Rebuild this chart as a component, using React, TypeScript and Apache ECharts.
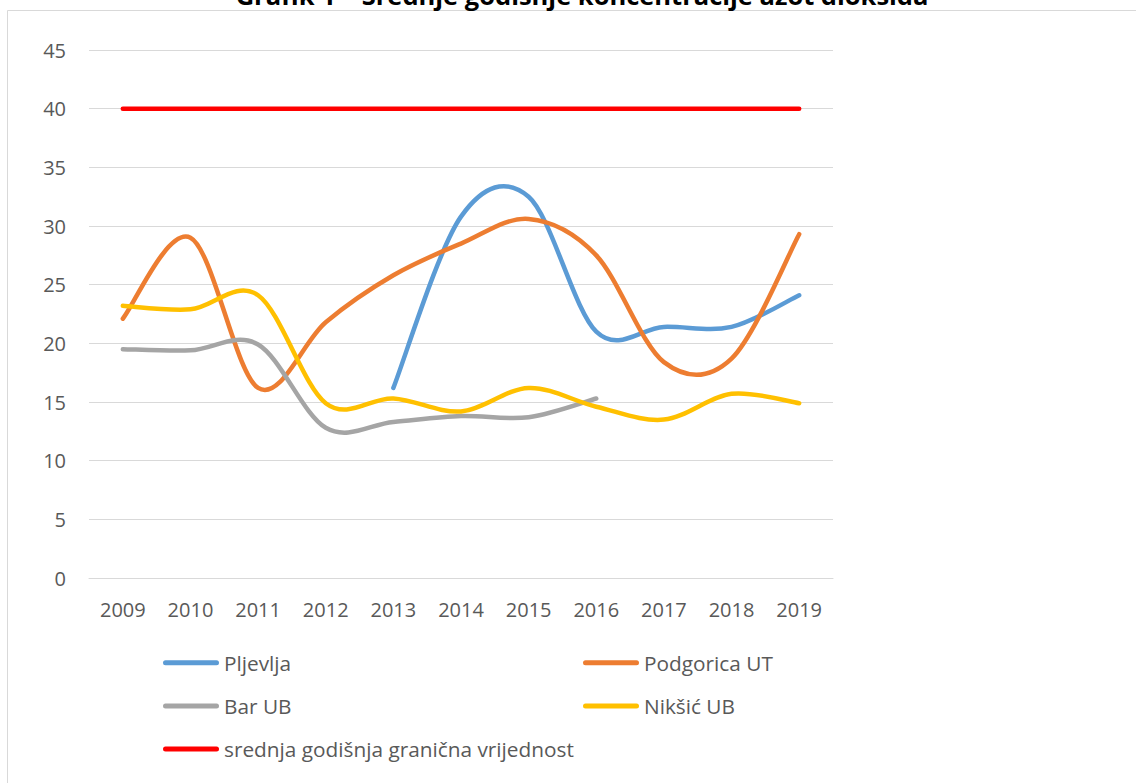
import React, { useEffect, useRef } from "react";
import * as echarts from "echarts";

const years = ["2009", "2010", "2011", "2012", "2013", "2014", "2015", "2016", "2017", "2018", "2019"];
const pljevlja = [null, null, null, null, 16.2, 30.8, 32.5, 21.0, 21.4, 21.4, 24.1];
const podgorica = [22.1, 29.0, 16.2, 21.8, 25.8, 28.5, 30.6, 27.5, 18.4, 18.7, 29.3];
const barUB = [19.5, 19.4, 19.9, 12.8, 13.3, 13.8, 13.7, 15.3, null, null, null];
const niksic = [23.2, 22.9, 24.1, 14.9, 15.3, 14.2, 16.2, 14.6, 13.5, 15.7, 14.9];
const limit = [40, 40, 40, 40, 40, 40, 40, 40, 40, 40, 40];

const titleText = "Grafik 1 – Srednje godišnje koncentracije azot dioksida";
const FONT = "'Open Sans', 'Noto Sans', sans-serif";
const ICON = "path://M2.5,0 L53.5,0 A2.5,2.5 0 0 1 53.5,5 L2.5,5 A2.5,2.5 0 0 1 2.5,0 Z";

// Excel-style smoothing (Catmull-Rom, 1/6 tangents) built from pixel points given by the axis scales
function smoothPath(pts: number[][]): string {
  if (pts.length === 0) return "";
  let d = `M${pts[0][0]},${pts[0][1]}`;
  for (let i = 0; i < pts.length - 1; i++) {
    const p0 = pts[i - 1] || pts[i];
    const p1 = pts[i];
    const p2 = pts[i + 1];
    const p3 = pts[i + 2] || pts[i + 1];
    const c1x = p1[0] + (p2[0] - p0[0]) / 6;
    const c1y = p1[1] + (p2[1] - p0[1]) / 6;
    const c2x = p2[0] - (p3[0] - p1[0]) / 6;
    const c2y = p2[1] - (p3[1] - p1[1]) / 6;
    d += ` C${c1x},${c1y} ${c2x},${c2y} ${p2[0]},${p2[1]}`;
  }
  return d;
}

export default function App() {
  const ref = useRef<HTMLDivElement>(null);
  useEffect(() => {
    if (!ref.current) return;
    const chart = echarts.init(ref.current, null, { renderer: "svg" });
    const mk = (name: string, vals: (number | null)[], color: string) => {
      const data = vals
        .map((v, i) => (v == null ? null : [i, v]))
        .filter((x) => x !== null) as number[][];
      return {
        name,
        type: "custom",
        data,
        encode: { x: 0, y: 1 },
        itemStyle: { color },
        silent: true,
        renderItem: (params: any, api: any) => {
          if (params.dataIndex !== 0) return null;
          const runs: number[][][] = [];
          let cur: number[][] = [];
          vals.forEach((v, i) => {
            if (v == null) {
              if (cur.length) runs.push(cur);
              cur = [];
            } else {
              cur.push(api.coord([i, v]));
            }
          });
          if (cur.length) runs.push(cur);
          const d = runs.map(smoothPath).join(" ");
          return {
            type: "path",
            shape: { pathData: d },
            style: { fill: "none", stroke: color, lineWidth: 4.5, lineCap: "round", lineJoin: "round" },
          };
        },
      };
    };
    chart.setOption({
      animation: false,
      backgroundColor: "#ffffff",
      textStyle: { fontFamily: FONT },
      graphic: [
        {
          type: "rect",
          shape: { x: 7.5, y: 10.5, width: 1400, height: 1000 },
          style: { fill: "none", stroke: "#D9D9D9", lineWidth: 1 },
          silent: true,
        },
        {
          type: "text",
          x: 582,
          y: -5.4,
          style: {
            text: titleText,
            fontFamily: FONT,
            fontWeight: "bold",
            fontSize: 25.5,
            fill: "#000000",
            align: "center",
            verticalAlign: "middle",
          },
          silent: true,
        },
      ],
      grid: { left: 89, right: 303, top: 50, bottom: 205 },
      legend: [
        {
          data: ["Pljevlja", "Bar UB", "srednja godišnja granična vrijednost"],
          orient: "vertical",
          left: 163,
          top: 652.2,
          padding: 0,
          itemWidth: 56,
          itemHeight: 5,
          itemGap: 22.2,
          icon: ICON,
          selectedMode: false,
          textStyle: { color: "#595959", fontSize: 20.8, fontFamily: FONT },
        },
        {
          data: ["Podgorica UT", "Nikšić UB"],
          orient: "vertical",
          left: 583,
          top: 652.2,
          padding: 0,
          itemWidth: 56,
          itemHeight: 5,
          itemGap: 22.2,
          icon: ICON,
          selectedMode: false,
          textStyle: { color: "#595959", fontSize: 20.8, fontFamily: FONT },
        },
      ],
      xAxis: {
        type: "category",
        data: years,
        boundaryGap: true,
        axisLine: { show: true, lineStyle: { color: "#D9D9D9", width: 1 } },
        axisTick: { show: false },
        axisLabel: { color: "#595959", fontSize: 20, fontFamily: FONT, margin: 21 },
      },
      yAxis: {
        type: "value",
        min: 0,
        max: 45,
        interval: 5,
        axisLine: { show: false },
        axisTick: { show: false },
        axisLabel: { color: "#595959", fontSize: 20, fontFamily: FONT, margin: 23 },
        splitLine: { lineStyle: { color: "#D9D9D9", width: 1 } },
      },
      series: [
        mk("Pljevlja", pljevlja, "#5B9BD5"),
        mk("Podgorica UT", podgorica, "#ED7D31"),
        mk("Bar UB", barUB, "#A5A5A5"),
        mk("Nikšić UB", niksic, "#FFC000"),
        mk("srednja godišnja granična vrijednost", limit, "#FF0000"),
      ],
    });
    return () => chart.dispose();
  }, []);
  return (
    <div
      ref={ref}
      style={{ position: "fixed", left: 0, top: 0, width: 1136, height: 783, background: "#fff" }}
    />
  );
}
